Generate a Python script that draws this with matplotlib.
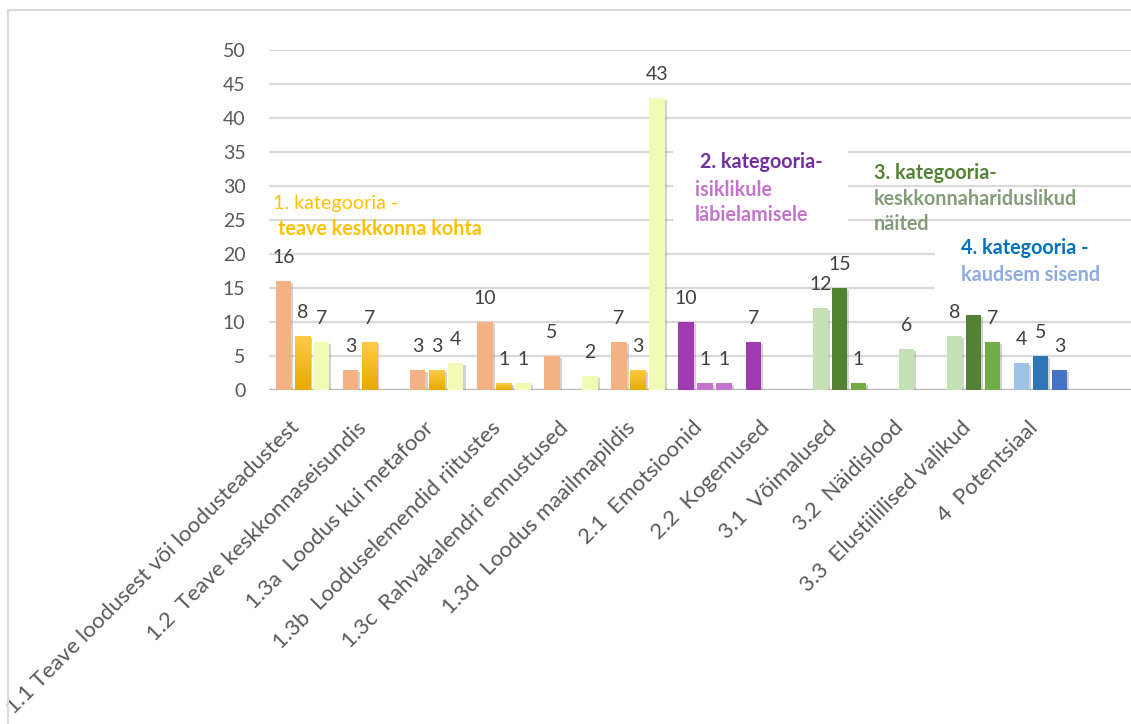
import numpy as np
import matplotlib.pyplot as plt
import matplotlib.patheffects as pe
from matplotlib.patches import Rectangle
from matplotlib.colors import LinearSegmentedColormap
import matplotlib.transforms as mtransforms

plt.rcParams['font.family'] = ['Lato', 'DejaVu Sans']

# categories and the three counts per category (None = no bar)
categories = ['1.1 Teave loodusest või loodusteadustest',
              '1.2  Teave keskkonnaseisundis',
              '1.3a  Loodus kui metafoor',
              '1.3b  Looduselemendid riitustes',
              '1.3c  Rahvakalendri ennustused',
              '1.3d  Loodus maailmapildis',
              '2.1  Emotsioonid',
              '2.2  Kogemused',
              '3.1  Võimalused',
              '3.2  Näidislood',
              '3.3  Elustiililised valikud',
              '4  Potentsiaal']
series_1 = [16, 3, 3, 10, 5, 7, 10, 7, 12, None, 8, 4]
series_2 = [8, 7, 3, 1, None, 3, 1, None, 15, 6, 11, 5]
series_3 = [7, None, 4, 1, 2, 43, 1, None, 1, None, 7, 3]
# value labels shown above the bars (the 11 in 3.3 has none)
show_label_2 = [True, True, True, True, True, True, True, True, True, True, False, True]
group = [1, 1, 1, 1, 1, 1, 2, 2, 3, 3, 3, 4]

group_colors = {
    1: ['#F4B183', '#FFC000', '#F3FAB6'],
    2: ['#A03AB0', '#C474CC', '#C474CC'],
    3: ['#C5E0B4', '#548235', '#70AD47'],
    4: ['#9DC3E6', '#2E75B6', '#4472C4'],
}
# 3.2 sits in the middle slot but keeps the light green
color_override = {(9, 1): '#C5E0B4'}

W, H = 1131, 724
fig = plt.figure(figsize=(W / 100, H / 100), dpi=100)
ax = fig.add_axes([269 / W, 1 - 390 / H, (W - 269) / W, 340 / H])

pitch = 67.1
ax.set_ylim(0, 50)
ax.set_yticks(range(0, 51, 5))
ax.grid(axis='y', color='#D9D9D9', lw=1.6)
ax.set_axisbelow(True)
for s in ax.spines.values():
    s.set_visible(False)
ax.tick_params(axis='y', length=0, pad=17, labelsize=14, labelcolor='#595959')
ax.tick_params(axis='x', length=0, pad=25, labelsize=16, labelcolor='#595959')
ax.axhline(0, color='#BFBFBF', lw=2.5, zorder=1.5,
           path_effects=[pe.SimpleLineShadow(offset=(0, -1.5), alpha=0.25), pe.Normal()])

gold_cmap = LinearSegmentedColormap.from_list('gold', ['#FFCC45', '#E8A900'])
bar_w = 0.23
offsets = [-0.283, 0.0, 0.283]
shadow = [pe.SimplePatchShadow(offset=(1.5, -1.5), shadow_rgbFace='#7F7F7F', alpha=0.35),
          pe.Normal()]

for k, vals in enumerate([series_1, series_2, series_3]):
    for i, v in enumerate(vals):
        if v is None:
            continue
        c = color_override.get((i, k), group_colors[group[i]][k])
        x = i + offsets[k]
        b = ax.bar(x, v, width=bar_w, color=c, zorder=2, path_effects=shadow)[0]
        if c == '#FFC000':
            grad = ax.imshow(np.linspace(0, 1, 64).reshape(-1, 1), cmap=gold_cmap,
                             extent=[x - bar_w / 2, x + bar_w / 2, 0, v],
                             aspect='auto', origin='upper', zorder=2.1)
            grad.set_clip_path(b)
        if k == 1 and not show_label_2[i]:
            continue
        ax.annotate(str(v), (x, v), xytext=(0, 13), textcoords='offset points',
                    ha='center', va='baseline', fontsize=14, color='#404040', zorder=3)
ax.set_xlim(-0.5, -0.5 + (W - 269) / pitch)

ax.set_xticks(range(len(categories)))
ax.set_xticklabels(categories, rotation=45, ha='right', va='center',
                   rotation_mode='anchor')
shift = mtransforms.ScaledTranslation(-6 / 100, 0, fig.dpi_scale_trans)
for lbl in ax.get_xticklabels():
    lbl.set_transform(lbl.get_transform() + shift)

# white backgrounds behind the category 2 and 4 text boxes
for (x0, y0, x1, y1) in [(673, 128, 848, 240), (935, 237, 1131, 300)]:
    ax.add_patch(Rectangle((x0 / W, 1 - y1 / H), (x1 - x0) / W, (y1 - y0) / H,
                           transform=fig.transFigure, facecolor='white',
                           edgecolor='none', zorder=1))

# outer chart border
fig.patches.append(Rectangle((8 / W, -0.1), 1.2, 1 - 10 / H + 0.1,
                             transform=fig.transFigure, fill=False,
                             edgecolor='#D9D9D9', lw=1.5))

def note(x, y, s, color, bold=True):
    fig.text(x / W, 1 - y / H, s, color=color, fontsize=14.2,
             fontweight='bold' if bold else 'normal', ha='left', va='center')

note(273, 203, '1. kategooria -', '#FFC000', bold=False)
note(278, 229, 'teave keskkonna kohta', '#FFC000')
note(700, 162, '2. kategooria-', '#7030A0')
note(695, 190, 'isiklikule', '#C474CC')
note(695, 215, 'läbielamisele', '#C474CC')
note(874, 173, '3. kategooria-', '#548235')
note(874, 199, 'keskkonnahariduslikud', '#849C78')
note(874, 224, 'näited', '#849C78')
note(961, 248, '4. kategooria -', '#0070C0')
note(961, 275, 'kaudsem sisend', '#8FAADC')

fig.savefig('out.png', dpi=100, facecolor='white')
